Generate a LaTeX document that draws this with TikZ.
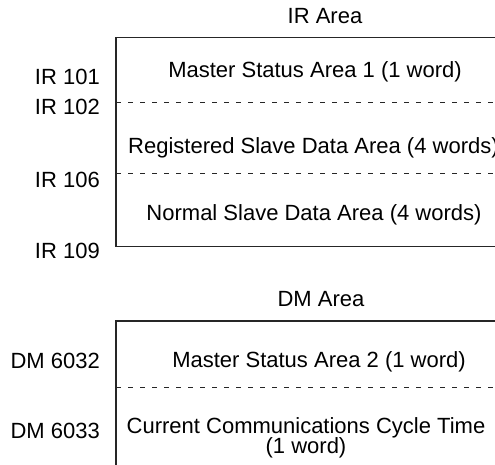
\documentclass[tikz,border=0pt]{standalone}
\usepackage{fontspec}
\setmainfont{Liberation Sans}
\begin{document}
\begin{tikzpicture}[x=1pt,y=-1pt,
  boxline/.style={line width=1.2pt,draw=black!85},
  sepline/.style={line width=1pt,draw=black!85,dash pattern=on 5pt off 7pt},
  txt/.style={font=\fontsize{22}{24}\selectfont,inner sep=0pt,anchor=base},
  lbl/.style={font=\fontsize{22}{24}\selectfont,inner sep=0pt,anchor=base east}]
\useasboundingbox (0,0) rectangle (495,465);
% IR area
\node[txt] (irarea) at (325,24) {IR Area};
\coordinate (irtl) at (116,37.5);
\coordinate (irtr) at (497,37.5);
\coordinate (irbl) at (116,246.5);
\coordinate (irbr) at (497,246.5);
\draw[boxline] (irtr) -- (irtl) -- (irbl) -- (irbr);
\coordinate (d1l) at (116,103); \coordinate (d1r) at (495,103);
\coordinate (d2l) at (116,174); \coordinate (d2r) at (495,174);
\draw[sepline] (d1l) -- (d1r);
\draw[sepline] (d2l) -- (d2r);
\node[txt] (ms1) at (315,77.5) {Master Status Area 1 (1 word)};
\node[txt,anchor=base west] (rsd) at (128,154) {Registered Slave Data Area (4 words)};
\node[txt] (nsd) at (314,221) {Normal Slave Data Area (4 words)};
\node[lbl] (ir101) at (100,85) {IR 101};
\node[lbl] (ir102) at (100,115) {IR 102};
\node[lbl] (ir106) at (100,188) {IR 106};
\node[lbl] (ir109) at (100,258) {IR 109};
% DM area
\node[txt] (dmarea) at (321,306.5) {DM Area};
\coordinate (dmtl) at (116,321);
\coordinate (dmtr) at (497,321);
\coordinate (dmbl) at (116,467);
\draw[boxline] (dmtr) -- (dmtl) -- (dmbl);
\coordinate (d3l) at (116,387); \coordinate (d3r) at (495,387);
\draw[sepline] (d3l) -- (d3r);
\node[txt] (ms2) at (319,367) {Master Status Area 2 (1 word)};
\node[txt,align=center,anchor=north] (cct) at (306,417) {Current Communications Cycle Time\\[-4pt](1 word)};
\node[lbl] (dm6032) at (100,368) {DM 6032};
\node[lbl] (dm6033) at (100,438) {DM 6033};
\end{tikzpicture}
\end{document}
